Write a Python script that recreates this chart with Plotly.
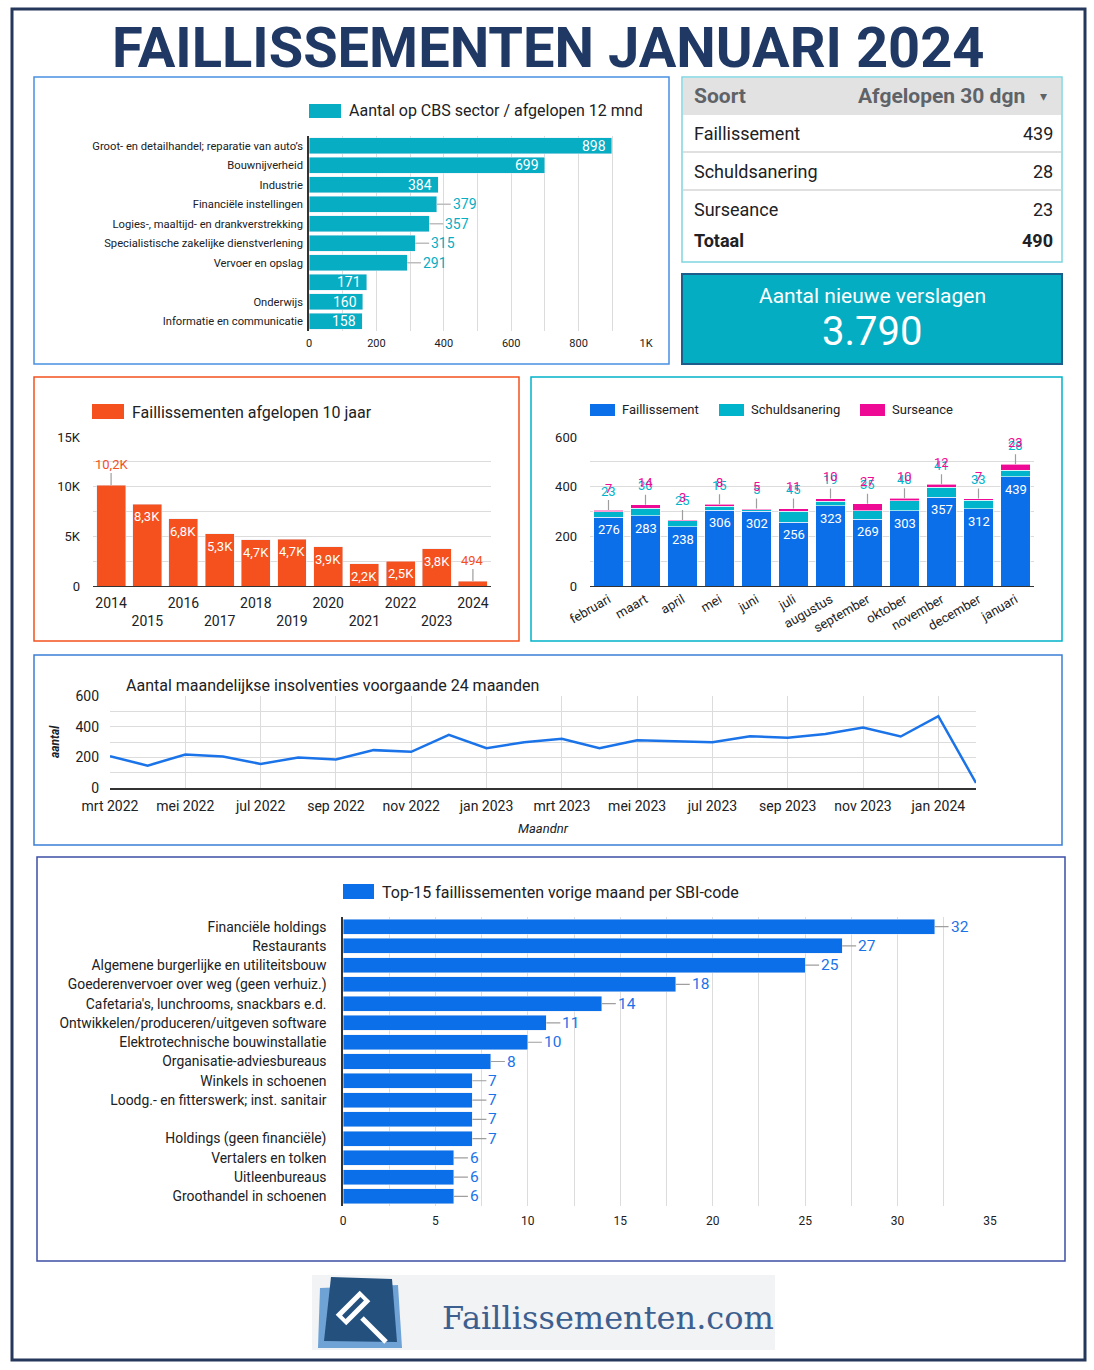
import math
import plotly.graph_objects as go

W, H = 1094, 1370
def fx(x): return x / W
def fy(y): return 1 - y / H

FONT = "Roboto"
TXT = "#202124"
GRID = "#dcdcdc"
C_TEAL = "#06adc3"
C_ORANGE = "#f4511e"
C_BLUE = "#0b6fea"
C_SCHULD = "#00b5cb"
C_PINK = "#ef0a95"
C_NAVY = "#1f3864"

# ---------------- data ----------------
cbs_sectors = ["Groot- en detailhandel; reparatie van auto’s", "Bouwnijverheid", "Industrie",
               "Financiële instellingen", "Logies-, maaltijd- en drankverstrekking",
               "Specialistische zakelijke dienstverlening", "Vervoer en opslag", "",
               "Onderwijs", "Informatie en communicatie"]
cbs_values = [898, 699, 384, 379, 357, 315, 291, 171, 160, 158]
cbs_label_outside = [False, False, False, True, True, True, True, False, False, False]

table_types = ["Faillissement", "Schuldsanering", "Surseance"]
table_values = [439, 28, 23]
new_reports = 3790

years = [2014, 2015, 2016, 2017, 2018, 2019, 2020, 2021, 2022, 2023, 2024]
year_values = [10158, 8254, 6781, 5256, 4672, 4682, 3928, 2225, 2510, 3764, 494]
year_label_outside = [True, False, False, False, False, False, False, False, False, False, True]

months = ["februari", "maart", "april", "mei", "juni", "juli", "augustus", "september",
          "oktober", "november", "december", "januari"]
faillissement = [276, 283, 238, 306, 302, 256, 323, 269, 303, 357, 312, 439]
schuldsanering = [23, 30, 25, 15, 5, 45, 19, 35, 40, 41, 33, 28]
surseance = [7, 14, 3, 8, 5, 11, 10, 27, 10, 12, 7, 23]

line_months = ["mrt 2022", "apr 2022", "mei 2022", "jun 2022", "jul 2022", "aug 2022",
               "sep 2022", "okt 2022", "nov 2022", "dec 2022", "jan 2023", "feb 2023",
               "mrt 2023", "apr 2023", "mei 2023", "jun 2023", "jul 2023", "aug 2023",
               "sep 2023", "okt 2023", "nov 2023", "dec 2023", "jan 2024", "feb 2024"]
line_values = [207, 146, 218, 205, 157, 199, 186, 247, 236, 347, 260, 299,
               321, 260, 312, 306, 299, 338, 328, 352, 395, 336, 469, 33]

sbi_labels = ["Financiële holdings", "Restaurants", "Algemene burgerlijke en utiliteitsbouw",
              "Goederenvervoer over weg (geen verhuiz.)", "Cafetaria's, lunchrooms, snackbars e.d.",
              "Ontwikkelen/produceren/uitgeven software", "Elektrotechnische bouwinstallatie",
              "Organisatie-adviesbureaus", "Winkels in schoenen",
              "Loodg.- en fitterswerk; inst. sanitair", "", "Holdings (geen financiële)",
              "Vertalers en tolken", "Uitleenbureaus", "Groothandel in schoenen"]
sbi_values = [32, 27, 25, 18, 14, 11, 10, 8, 7, 7, 7, 7, 6, 6, 6]

# ---------------- figure ----------------
fig = go.Figure()
ann = []
shapes = []

def fmt_k(v):
    if v >= 1000:
        return f"{v/1000:.1f}K".replace(".", ",")
    return str(v)

# CBS horizontal bars
cbs_idx = list(range(len(cbs_values)))
fig.add_trace(go.Bar(x=cbs_values, y=cbs_idx, orientation="h", marker=dict(color=C_TEAL),
                     width=0.82, xaxis="x", yaxis="y", hoverinfo="skip"))
for i, v in enumerate(cbs_values):
    if cbs_label_outside[i]:
        ann.append(dict(x=v, y=i, xref="x", yref="y", text=str(v), showarrow=True, ax=14, ay=0,
                        xanchor="left", arrowhead=0, arrowcolor="#bdbdbd", arrowwidth=1.5,
                        standoff=0, startstandoff=0, font=dict(size=14, color=C_TEAL, family=FONT)))
    else:
        ann.append(dict(x=v, y=i, xref="x", yref="y", text=str(v), showarrow=False, xanchor="right",
                        xshift=-4, font=dict(size=14, color="white", family=FONT)))

# 10 year bars
yr_idx = list(range(len(years)))
fig.add_trace(go.Bar(x=yr_idx, y=year_values, marker=dict(color=C_ORANGE), width=0.8,
                     xaxis="x2", yaxis="y2", hoverinfo="skip"))
for i, v in enumerate(year_values):
    if year_label_outside[i]:
        ann.append(dict(x=i, y=v, xref="x2", yref="y2", text=fmt_k(v), showarrow=True, ax=0, ay=-21,
                        arrowhead=0, arrowcolor="#9e9e9e", arrowwidth=1.2, standoff=0,
                        font=dict(size=13, color=C_ORANGE, family=FONT)))
    else:
        ann.append(dict(x=i, y=v, xref="x2", yref="y2", text=fmt_k(v), showarrow=False, yanchor="top",
                        yshift=-3, font=dict(size=13, color="white", family=FONT)))

# stacked monthly bars
m_idx = list(range(len(months)))
for vals, col in [(faillissement, C_BLUE), (schuldsanering, C_SCHULD), (surseance, C_PINK)]:
    fig.add_trace(go.Bar(x=m_idx, y=vals, marker=dict(color=col, line=dict(color="rgba(255,255,255,0.6)", width=1)),
                         width=0.81, xaxis="x3", yaxis="y3", hoverinfo="skip"))
for i in m_idx:
    tot = faillissement[i] + schuldsanering[i] + surseance[i]
    ann.append(dict(x=i, y=faillissement[i], xref="x3", yref="y3", text=str(faillissement[i]),
                    showarrow=False, yanchor="top", yshift=-3,
                    font=dict(size=13, color="white", family=FONT)))
    ann.append(dict(x=i, y=tot, xref="x3", yref="y3", text=str(schuldsanering[i]), showarrow=True,
                    ax=0, ay=-19, arrowhead=0, arrowcolor="#9e9e9e", arrowwidth=1.2, standoff=0,
                    font=dict(size=13, color=C_SCHULD, family=FONT)))
    ann.append(dict(x=i, y=tot, xref="x3", yref="y3", text=str(surseance[i]), showarrow=False,
                    yshift=22, font=dict(size=13, color=C_PINK, family=FONT)))

# line chart
l_idx = list(range(len(line_values)))
fig.add_trace(go.Scatter(x=l_idx, y=line_values, mode="lines", line=dict(color="#1a73e8", width=2.5),
                         xaxis="x4", yaxis="y4", cliponaxis=False, hoverinfo="skip"))

# top-15 bars
s_idx = list(range(len(sbi_values)))
fig.add_trace(go.Bar(x=sbi_values, y=s_idx, orientation="h", marker=dict(color=C_BLUE), width=0.78,
                     xaxis="x5", yaxis="y5", hoverinfo="skip"))
for i, v in enumerate(sbi_values):
    ann.append(dict(x=v, y=i, xref="x5", yref="y5", text=str(v), showarrow=True, ax=14, ay=0,
                    xanchor="left", arrowhead=0, arrowcolor="#9e9e9e", arrowwidth=1.2, standoff=0,
                    font=dict(size=15.5, color="#1a73e8", family=FONT)))

# ---------------- decorations ----------------
def rect(x0, y0, x1, y1, line=None, fill=None, lw=1.5, layer="below"):
    shapes.append(dict(type="rect", xref="paper", yref="paper", x0=fx(x0), x1=fx(x1),
                       y0=fy(y1), y1=fy(y0), line=dict(color=line or "rgba(0,0,0,0)", width=lw if line else 0),
                       fillcolor=fill or "rgba(0,0,0,0)", layer=layer))

def text(x, y, s, size, color=TXT, xanchor="left", family=FONT, angle=0, yanchor="middle"):
    ann.append(dict(x=fx(x), y=fy(y), xref="paper", yref="paper", text=s, showarrow=False,
                    xanchor=xanchor, yanchor=yanchor, textangle=angle,
                    font=dict(size=size, color=color, family=family)))

# outer border and title
rect(12, 9, 1085, 1360, line="#25385c", lw=3)
text(548, 48, "<b>FAILLISSEMENTEN JANUARI 2024</b>", 56, color=C_NAVY, xanchor="center")

# panels
rect(34, 77, 669, 364, line="#4a90e2", lw=1.5)
rect(34, 377, 519, 641, line=C_ORANGE, lw=1.5)
rect(531, 377, 1062, 641, line="#00b3c8", lw=1.5)
rect(34, 655, 1062, 845, line="#3b7dd8", lw=1.5)
rect(37, 857, 1065, 1261, line="#3c4fa6", lw=1.5)

# legends
rect(309, 104, 341, 118, fill=C_TEAL)
text(347, 111, "Aantal op CBS sector / afgelopen 12 mnd", 16)
rect(92, 404, 124, 419, fill=C_ORANGE)
text(130, 412, "Faillissementen afgelopen 10 jaar", 16)
for (lx, lab, col) in [(590, "Faillissement", C_BLUE), (719, "Schuldsanering", C_SCHULD), (860, "Surseance", C_PINK)]:
    rect(lx, 404, lx + 25, 416, fill=col)
    text(lx + 30, 410, lab, 13)
rect(343, 884, 374, 899, fill=C_BLUE)
text(380, 892, "Top-15 faillissementen vorige maand per SBI-code", 16)

# line chart texts
text(124, 685, "Aantal maandelijkse insolventies voorgaande 24 maanden", 16)
text(55, 742, "<b><i>aantal</i></b>", 12, xanchor="center", angle=-90)
text(543, 828, "<i>Maandnr</i>", 13, xanchor="center")

# table
rect(682, 77, 1062, 262, line="#7fd5e1", lw=1.5)
rect(683, 78, 1061, 115, fill="#e2e2e2")
text(692, 96, "<b>Soort</b>", 21, color="#5f6368")
text(1027, 96, "<b>Afgelopen 30 dgn</b>", 21, color="#5f6368", xanchor="right")
text(1043, 96, "▾", 14, color="#5f6368", xanchor="center")
row_y = [133, 171, 209]
for k, (t, v) in enumerate(zip(table_types, table_values)):
    text(692, row_y[k], t, 18)
    text(1055, row_y[k], str(v), 18, xanchor="right")
for sy in [152, 190]:
    shapes.append(dict(type="line", xref="paper", yref="paper", x0=fx(683), x1=fx(1061),
                       y0=fy(sy), y1=fy(sy), line=dict(color="#e0e0e0", width=2)))
text(692, 241, "<b>Totaal</b>", 18)
text(1055, 241, f"<b>{sum(table_values)}</b>", 18, xanchor="right")

# KPI box
rect(682, 274, 1062, 364, line="#1d5d8c", fill="#05adc2", lw=2)
text(872, 296, "Aantal nieuwe verslagen", 21, color="white", xanchor="center")
text(872, 331, f"{new_reports:,}".replace(",", "."), 40, color="white", xanchor="center")

# logo
rect(312, 1275, 775, 1350, fill="#f2f3f4")
def poly(pts, fill):
    d = "M " + " L ".join(f"{fx(a):.5f},{fy(b):.5f}" for a, b in pts) + " Z"
    shapes.append(dict(type="path", xref="paper", yref="paper", path=d, fillcolor=fill,
                       line=dict(width=0), layer="above"))
poly([(320, 1288), (398, 1285), (402, 1348), (318, 1348)], "#6fa3d6")
poly([(331, 1277), (392, 1279), (397, 1342), (324, 1341)], "#24507e")
def rot_rect(cx, cy, w, h, ang):
    a = math.radians(ang)
    ca, sa = math.cos(a), math.sin(a)
    pts = []
    for dx, dy in [(-w/2, -h/2), (w/2, -h/2), (w/2, h/2), (-w/2, h/2)]:
        pts.append((cx + dx*ca - dy*sa, cy + dx*sa + dy*ca))
    return pts
poly(rot_rect(353, 1308, 34, 15, -45), "white")
poly(rot_rect(353, 1308, 26, 5, -45), "#24507e")
poly(rot_rect(374, 1330, 34, 5, 45), "white")
text(440, 1318, "Faillissementen.com", 32, color="#3d5f8f", family="DejaVu Serif")

# ---------------- layout ----------------
tf = dict(family=FONT, color=TXT)
fig.update_layout(
    width=W, height=H, margin=dict(l=0, r=0, t=0, b=0, autoexpand=False),
    paper_bgcolor="white", plot_bgcolor="white", showlegend=False,
    barmode="stack", font=dict(family=FONT, color=TXT),
    annotations=ann, shapes=shapes,
    xaxis=dict(domain=[fx(309), fx(646)], anchor="y", range=[0, 1000],
               tickvals=[0, 200, 400, 600, 800, 1000], ticktext=["0", "200", "400", "600", "800", "1K"],
               showgrid=True, gridcolor=GRID, minor=dict(dtick=100, showgrid=True, gridcolor=GRID),
               zeroline=False, tickfont=dict(size=11, **tf), ticklabelstandoff=4),
    yaxis=dict(domain=[fy(331), fy(136)], anchor="x", range=[9.5, -0.5], tickvals=cbs_idx,
               ticktext=cbs_sectors, showgrid=False, zeroline=False, showline=True, linecolor="#333",
               linewidth=1.5, tickfont=dict(size=11.2, **tf), ticklabelstandoff=2),
    xaxis2=dict(domain=[fx(93), fx(491)], anchor="y2", range=[-0.5, 10.5], tickvals=yr_idx,
                ticktext=[str(y) if i % 2 == 0 else "<br>" + str(y) for i, y in enumerate(years)],
                showgrid=False, showline=True, linecolor="#333", linewidth=1, zeroline=False,
                tickfont=dict(size=14, **tf), ticklabelstandoff=4),
    yaxis2=dict(domain=[fy(586), fy(437)], anchor="x2", range=[0, 15000],
                tickvals=[0, 5000, 10000, 15000], ticktext=["0", "5K", "10K", "15K"],
                showgrid=True, gridcolor=GRID, minor=dict(dtick=2500, showgrid=True, gridcolor=GRID),
                zeroline=False, tickfont=dict(size=13, **tf), ticklabelstandoff=12),
    xaxis3=dict(domain=[fx(590), fx(1034)], anchor="y3", range=[-0.5, 11.5], tickvals=m_idx,
                ticktext=months, tickangle=-30, showgrid=False, showline=True, linecolor="#333",
                linewidth=1, zeroline=False, tickfont=dict(size=13, **tf)),
    yaxis3=dict(domain=[fy(586), fy(437)], anchor="x3", range=[0, 600], tickvals=[0, 200, 400, 600],
                showgrid=True, gridcolor=GRID, minor=dict(dtick=100, showgrid=True, gridcolor=GRID),
                zeroline=False, tickfont=dict(size=13, **tf), ticklabelstandoff=12),
    xaxis4=dict(domain=[fx(110), fx(976)], anchor="y4", range=[0, 23], tickvals=l_idx[::2],
                ticktext=line_months[::2], showgrid=True, gridcolor=GRID, showline=True,
                linecolor="#333", linewidth=1.5, zeroline=False, tickfont=dict(size=14, **tf),
                ticklabelstandoff=4),
    yaxis4=dict(domain=[fy(788), fy(696)], anchor="x4", range=[0, 600], tickvals=[0, 200, 400, 600],
                showgrid=True, gridcolor=GRID, minor=dict(dtick=100, showgrid=True, gridcolor=GRID),
                zeroline=False, tickfont=dict(size=14, **tf), ticklabelstandoff=10),
    xaxis5=dict(domain=[fx(343), fx(990)], anchor="y5", range=[0, 35], tickvals=list(range(0, 36, 5)),
                showgrid=True, gridcolor=GRID, minor=dict(dtick=2.5, showgrid=True, gridcolor=GRID),
                zeroline=False, tickfont=dict(size=12, **tf), ticklabelstandoff=6),
    yaxis5=dict(domain=[fy(1206), fy(917)], anchor="x5", range=[14.5, -0.5], tickvals=s_idx,
                ticktext=sbi_labels, showgrid=False, zeroline=False, showline=True, linecolor="#333",
                linewidth=1.5, tickfont=dict(size=13.9, **tf), ticklabelstandoff=12),
)
for ax in ["xaxis", "yaxis", "xaxis2", "yaxis2", "xaxis3", "yaxis3", "xaxis4", "yaxis4", "xaxis5", "yaxis5"]:
    fig.layout[ax].automargin = False
    fig.layout[ax].fixedrange = True

fig.write_html("out.html", config={"displayModeBar": False},
               post_script="document.body.style.margin='0';document.body.style.overflow='hidden';")
